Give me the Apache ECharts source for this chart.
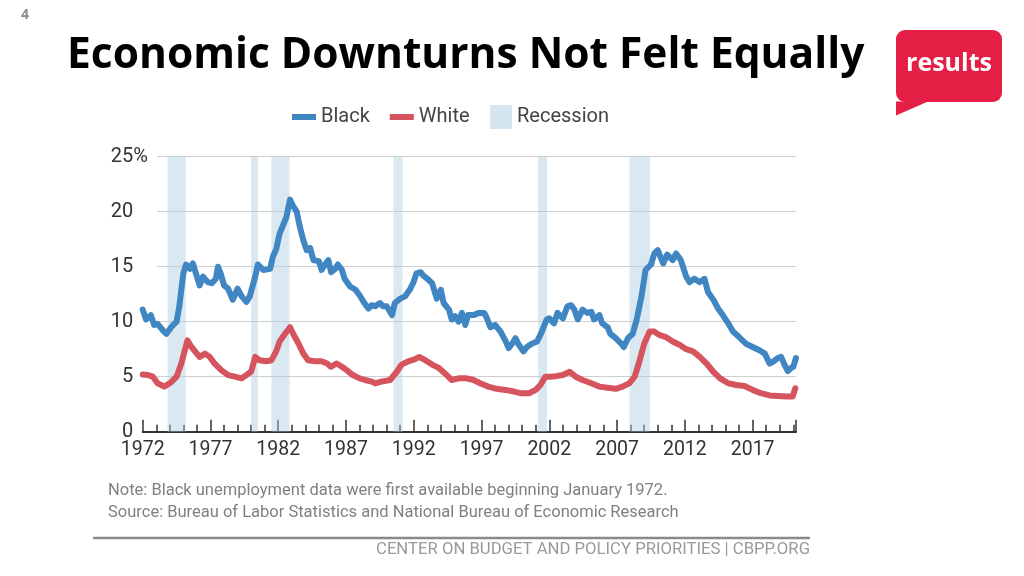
<!DOCTYPE html>
<html>
<head>
<meta charset="utf-8">
<script src="https://cdn.jsdelivr.net/npm/echarts@6/dist/echarts.min.js"></script>
<style>
html,body{margin:0;padding:0;background:#fff;}
#chart{width:1024px;height:576px;}
</style>
</head>
<body>
<div id="chart"></div>
<script>
// ---- Data ----
var blackYears = [1972.0,1972.25,1972.6,1972.85,1973.1,1973.5,1973.75,1974.1,1974.5,1974.7,1975.0,1975.2,1975.5,1975.7,1976.0,1976.2,1976.45,1976.8,1977.1,1977.4,1977.55,1977.75,1978.0,1978.3,1978.65,1979.0,1979.3,1979.65,1979.9,1980.3,1980.5,1980.9,1981.4,1981.6,1981.85,1982.1,1982.4,1982.6,1982.87,1983.1,1983.36,1983.6,1983.85,1984.1,1984.35,1984.6,1985.0,1985.2,1985.45,1985.7,1985.9,1986.2,1986.4,1986.7,1986.9,1987.3,1987.7,1988.0,1988.3,1988.65,1988.9,1989.15,1989.5,1989.75,1990.0,1990.4,1990.6,1991.0,1991.35,1991.7,1991.95,1992.2,1992.5,1992.7,1993.0,1993.35,1993.7,1994.0,1994.2,1994.6,1994.8,1995.05,1995.3,1995.55,1995.8,1996.0,1996.4,1996.8,1997.2,1997.4,1997.65,1998.0,1998.4,1998.75,1999.0,1999.25,1999.5,1999.75,2000.1,2000.35,2000.7,2001.1,2001.45,2001.8,2002.0,2002.35,2002.6,2003.0,2003.34,2003.6,2003.85,2004.1,2004.45,2004.8,2005.1,2005.3,2005.7,2005.9,2006.3,2006.5,2006.9,2007.3,2007.5,2007.8,2008.15,2008.45,2008.8,2009.1,2009.5,2009.75,2010.0,2010.4,2010.7,2011.1,2011.35,2011.7,2012.1,2012.35,2012.7,2013.1,2013.45,2013.7,2014.1,2014.45,2014.8,2015.2,2015.55,2016.0,2016.5,2017.0,2017.5,2017.9,2018.25,2018.55,2018.85,2019.1,2019.35,2019.6,2019.85,2020.0,2020.2];
var blackValues = [11.1,10.2,10.6,9.7,9.8,9.2,8.9,9.5,10.0,11.4,14.4,15.2,14.8,15.3,14.1,13.3,14.1,13.6,13.5,13.9,15.0,14.4,13.3,13.0,12.0,13.0,12.3,11.8,12.3,14.1,15.2,14.7,14.8,15.9,16.6,18.0,18.9,19.5,21.1,20.5,20.0,18.6,17.4,16.5,16.7,15.6,15.5,14.7,15.2,15.6,14.5,14.8,15.2,14.7,13.9,13.2,12.9,12.4,11.8,11.2,11.5,11.4,11.7,11.4,11.4,10.6,11.7,12.1,12.3,12.9,13.5,14.4,14.5,14.2,13.9,13.5,12.1,12.9,11.7,11.1,10.2,10.5,10.0,10.8,9.7,10.6,10.6,10.8,10.8,10.3,9.5,9.7,9.1,8.3,7.6,8.0,8.5,7.9,7.3,7.7,8.0,8.2,9.1,10.2,10.3,9.85,10.8,10.3,11.4,11.5,11.1,10.2,11.1,10.8,10.9,10.2,10.6,9.85,9.5,8.9,8.5,8.0,7.7,8.5,8.9,10.2,12.3,14.7,15.2,16.2,16.5,15.3,16.1,15.6,16.2,15.6,14.1,13.6,13.9,13.6,13.9,12.7,12.0,11.2,10.6,9.85,9.1,8.6,8.0,7.7,7.4,7.1,6.2,6.4,6.7,6.8,6.1,5.5,5.8,5.9,6.7];

var whiteYears = [1972.0,1972.4,1972.75,1973.1,1973.6,1974.1,1974.5,1974.85,1975.3,1975.6,1976.0,1976.2,1976.6,1976.95,1977.3,1977.8,1978.3,1978.8,1979.3,1979.65,1980.0,1980.3,1980.6,1981.1,1981.5,1981.85,1982.1,1982.5,1982.87,1983.1,1983.5,1983.85,1984.2,1984.7,1985.2,1985.6,1985.9,1986.3,1986.7,1987.05,1987.5,1988.0,1988.4,1988.9,1989.15,1989.6,1990.25,1990.75,1991.1,1991.6,1992.1,1992.4,1992.85,1993.35,1993.85,1994.3,1994.8,1995.3,1995.9,1996.4,1996.9,1997.5,1998.1,1998.75,1999.4,1999.87,2000.5,2001.0,2001.35,2001.7,2002.0,2002.5,2003.0,2003.5,2003.95,2004.45,2005.1,2005.7,2006.3,2006.9,2007.4,2007.9,2008.3,2008.6,2009.0,2009.4,2009.75,2010.1,2010.6,2011.1,2011.6,2012.1,2012.6,2013.1,2013.6,2014.1,2014.6,2015.2,2015.8,2016.4,2017.0,2017.6,2018.25,2018.85,2019.5,2019.95,2020.15];
var whiteValues = [5.2,5.15,5.0,4.4,4.1,4.5,5.0,6.2,8.3,7.7,7.1,6.8,7.1,6.8,6.2,5.6,5.15,5.0,4.85,5.15,5.45,6.8,6.5,6.4,6.5,7.3,8.2,8.9,9.5,8.9,8.0,7.1,6.5,6.4,6.4,6.2,5.9,6.2,5.9,5.6,5.15,4.85,4.7,4.55,4.4,4.55,4.7,5.45,6.1,6.4,6.6,6.8,6.5,6.1,5.8,5.3,4.7,4.85,4.85,4.7,4.4,4.1,3.9,3.8,3.65,3.5,3.5,3.8,4.25,5.0,5.0,5.05,5.15,5.45,5.0,4.7,4.4,4.1,4.0,3.9,4.1,4.4,5.0,6.2,8.0,9.1,9.1,8.8,8.6,8.2,7.9,7.5,7.3,6.8,6.2,5.45,4.85,4.4,4.25,4.15,3.8,3.5,3.3,3.25,3.2,3.2,3.95];

// NBER recessions [start, end] in decimal years
var recessionStarts = [1973.83, 1980.0, 1981.5, 1990.5, 2001.17, 2007.92];
var recessionEnds   = [1975.17, 1980.5, 1982.83, 1991.17, 2001.83, 2009.42];

var yTicks = [0, 5, 10, 15, 20, 25];
var xLabelEvery = 5;
var xStart = 1972, xEnd = 2020.2;

// ---- Build ----
function zip(a, b) { return a.map(function (v, i) { return [v, b[i]]; }); }
var recAreas = recessionStarts.map(function (s, i) { return [{ xAxis: s }, { xAxis: recessionEnds[i] }]; });

var FONT = 'Roboto';
var chart = echarts.init(document.getElementById('chart'), null, { renderer: 'canvas' });
chart.setOption({
  backgroundColor: '#ffffff',
  animation: false,
  textStyle: { fontFamily: FONT },
  title: {
    text: 'Economic Downturns Not Felt Equally',
    left: 62, top: 29,
    textStyle: { fontFamily: 'Open Sans', fontWeight: 'bold', fontSize: 42.5, color: '#000' }
  },
  legend: [
    {
      data: ['Black', 'White'], left: 292, top: 105, padding: 0,
      icon: 'rect', itemWidth: 24, itemHeight: 6, itemGap: 20,
      textStyle: { fontFamily: FONT, fontSize: 20, color: '#444', lineHeight: 24 }
    },
    {
      data: ['Recession'], left: 490, top: 105, padding: 0,
      icon: 'rect', itemWidth: 22, itemHeight: 24,
      textStyle: { fontFamily: FONT, fontSize: 20, color: '#444', lineHeight: 24 }
    }
  ],
  grid: [
    { left: 142.7, right: 228, top: 156.7, bottom: 144.3 },
    { left: 157, right: 228, top: 156.7, bottom: 144.3 }
  ],
  xAxis: [
    {
      gridIndex: 0, type: 'value', min: xStart, max: xEnd, interval: 1, position: 'bottom',
      axisLine: { lineStyle: { color: '#333', width: 2 } },
      axisTick: { inside: true, length: 7, lineStyle: { color: '#333', width: 1.5 } },
      axisLabel: {
        margin: 8, fontSize: 19.5, color: '#333', fontFamily: FONT,
        formatter: function (v) { return ((v - xStart) % xLabelEvery === 0) ? String(v) : ''; }
      },
      splitLine: { show: false }
    },
    {
      gridIndex: 0, type: 'value', min: xStart, max: xEnd, interval: 5, position: 'bottom',
      axisLine: { show: false },
      axisTick: { inside: true, length: 12, lineStyle: { color: '#333', width: 1.5 } },
      axisLabel: { show: false }, splitLine: { show: false }
    },
    { gridIndex: 1, type: 'value', min: 0, max: 1, show: false }
  ],
  yAxis: [
    { gridIndex: 0, type: 'value', min: 0, max: 25, interval: 5, show: false },
    {
      gridIndex: 1, type: 'value', min: 0, max: 25, interval: 5,
      axisLine: { show: false }, axisTick: { show: false },
      splitLine: { lineStyle: { color: '#cfcfcf', width: 1 } },
      axisLabel: {
        margin: 9, fontSize: 20, color: '#333', fontFamily: FONT,
        formatter: function (v) { return v === 25 ? v + '{p|%}' : v + '{h|%}'; },
        rich: {
          p: { fontSize: 20, color: '#333', fontFamily: FONT },
          h: { fontSize: 20, color: 'rgba(0,0,0,0)', fontFamily: FONT }
        }
      }
    }
  ],
  series: [
    {
      name: 'Recession', type: 'line', xAxisIndex: 0, yAxisIndex: 0, data: [],
      itemStyle: { color: '#d6e6f0' }, lineStyle: { color: '#d6e6f0' },
      markArea: { silent: true, itemStyle: { color: 'rgba(170,203,224,0.45)' }, data: recAreas },
      z: 1
    },
    {
      name: 'Black', type: 'line', xAxisIndex: 0, yAxisIndex: 0,
      data: zip(blackYears, blackValues), showSymbol: false, symbol: 'none',
      itemStyle: { color: '#3f86c3' },
      lineStyle: { color: '#3f86c3', width: 6, join: 'round', cap: 'round' }, z: 3
    },
    {
      name: 'White', type: 'line', xAxisIndex: 0, yAxisIndex: 0,
      data: zip(whiteYears, whiteValues), showSymbol: false, symbol: 'none',
      itemStyle: { color: '#d5545d' },
      lineStyle: { color: '#d5545d', width: 6, join: 'round', cap: 'round' }, z: 3
    }
  ],
  graphic: [
    { type: 'text', left: 21, top: 8, style: { text: '4', fontSize: 14, fontWeight: 'bold', fill: '#8a8a8a', fontFamily: 'Open Sans' } },
    { type: 'rect', shape: { x: 896, y: 30, width: 106, height: 72, r: 9 }, style: { fill: '#e51e45' } },
    { type: 'polygon', shape: { points: [[896, 90], [896, 115.5], [928, 101.5], [896, 101.5]] }, style: { fill: '#e51e45' } },
    { type: 'text', x: 949, y: 64, style: { text: 'results', fontSize: 25, fontWeight: 'bold', fill: '#fff', fontFamily: 'Open Sans', align: 'center', verticalAlign: 'middle' } },
    { type: 'text', x: 108, y: 491, style: { text: 'Note: Black unemployment data were first available beginning January 1972.', fontSize: 16.5, fill: '#808080', fontFamily: FONT, verticalAlign: 'middle' } },
    { type: 'text', x: 108, y: 513, style: { text: 'Source: Bureau of Labor Statistics and National Bureau of Economic Research', fontSize: 16.5, fill: '#808080', fontFamily: FONT, verticalAlign: 'middle' } },
    { type: 'line', shape: { x1: 93, y1: 538, x2: 810, y2: 538 }, style: { stroke: '#8a8a8a', lineWidth: 2.5 } },
    { type: 'text', x: 810, y: 550, style: { text: 'CENTER ON BUDGET AND POLICY PRIORITIES | CBPP.ORG', fontSize: 16.7, fill: '#9a9a9a', fontFamily: FONT, align: 'right', verticalAlign: 'middle' } }
  ]
});
</script>
</body>
</html>
